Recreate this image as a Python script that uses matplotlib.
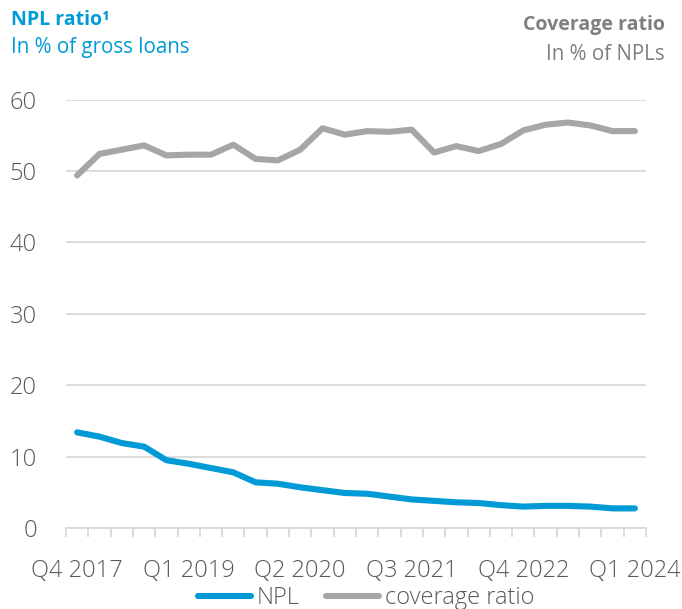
import matplotlib
matplotlib.use("Agg")
import matplotlib.pyplot as plt
from matplotlib.ticker import FixedLocator

plt.rcParams['font.family'] = ['Open Sans', 'DejaVu Sans']

quarters = ["Q4 2017", "Q1 2018", "Q2 2018", "Q3 2018", "Q4 2018",
            "Q1 2019", "Q2 2019", "Q3 2019", "Q4 2019",
            "Q1 2020", "Q2 2020", "Q3 2020", "Q4 2020",
            "Q1 2021", "Q2 2021", "Q3 2021", "Q4 2021",
            "Q1 2022", "Q2 2022", "Q3 2022", "Q4 2022",
            "Q1 2023", "Q2 2023", "Q3 2023", "Q4 2023",
            "Q1 2024"]
npl = [13.4, 12.8, 11.9, 11.4, 9.5, 9.0, 8.4, 7.8, 6.4, 6.2, 5.7, 5.3, 4.9,
       4.8, 4.4, 4.0, 3.8, 3.6, 3.5, 3.2, 3.0, 3.1, 3.1, 3.0, 2.75, 2.75]
coverage = [49.4, 52.4, 53.0, 53.6, 52.2, 52.3, 52.3, 53.7, 51.7, 51.5, 53.0,
            56.0, 55.1, 55.6, 55.5, 55.8, 52.6, 53.5, 52.8, 53.8, 55.7, 56.5,
            56.8, 56.4, 55.6, 55.6]
y_ticks = [0, 10, 20, 30, 40, 50, 60]

BLUE = "#009AD6"
GRAY_LINE = "#A6A6A6"
GRID = "#D9D9D9"
TEXT = "#595959"

fig = plt.figure(figsize=(6.82, 6.09), dpi=100)
ax = fig.add_axes([66 / 682, 1 - 528 / 609, 580 / 682, (528 - 99.7) / 609])

x = list(range(len(quarters)))
l1, = ax.plot(x, npl, color=BLUE, lw=4.4, solid_capstyle="round",
              solid_joinstyle="round", label="NPL", zorder=3)
l2, = ax.plot(x, coverage, color=GRAY_LINE, lw=4.4, solid_capstyle="round",
              solid_joinstyle="round", label="coverage ratio", zorder=3)

ax.set_xlim(-0.5, len(quarters) - 0.5)
ax.set_ylim(0, 60)
ax.set_yticks(y_ticks)
ax.yaxis.grid(True, color=GRID, lw=1.3)
ax.set_axisbelow(True)

for side in ("top", "right", "left"):
    ax.spines[side].set_visible(False)
ax.spines["bottom"].set_color(GRID)
ax.spines["bottom"].set_linewidth(1.3)

label_idx = list(range(0, len(quarters), 5))
ax.set_xticks(label_idx)
ax.set_xticklabels([quarters[i] for i in label_idx])
ax.xaxis.set_minor_locator(FixedLocator([i - 0.5 for i in range(len(quarters) + 1)]))
ax.tick_params(axis="x", which="major", length=0, pad=22, labelsize=17,
               labelcolor=TEXT)
ax.tick_params(axis="x", which="minor", length=6.5, width=1.3, color=GRID)
ax.tick_params(axis="y", length=0, pad=21, labelsize=17, labelcolor=TEXT)
for lab in ax.get_xticklabels() + ax.get_yticklabels():
    lab.set_fontweight("light")

fig.text(11 / 682, 1 - 20 / 609, "NPL ratio\u00b9", color=BLUE, fontsize=14,
         fontweight="bold", ha="left", va="center")
fig.text(11 / 682, 1 - 48 / 609, "In % of gross loans", color=BLUE,
         fontsize=14.8, ha="left", va="center")
fig.text(665 / 682, 1 - 25 / 609, "Coverage ratio", color="#7F7F7F",
         fontsize=14, fontweight="bold", ha="right", va="center")
fig.text(665 / 682, 1 - 54 / 609, "In % of NPLs", color="#7F7F7F",
         fontsize=14.8, ha="right", va="center")

leg = fig.legend(handles=[l1, l2], loc="center", ncol=2,
                 bbox_to_anchor=(366 / 682, 1 - 598 / 609), frameon=False,
                 prop={"size": 17, "weight": "light"},
                 handlelength=2.25, handletextpad=0.25,
                 columnspacing=1.1, borderaxespad=0, borderpad=0)
for t in leg.get_texts():
    t.set_color(TEXT)

fig.savefig("out.png", dpi=100)
